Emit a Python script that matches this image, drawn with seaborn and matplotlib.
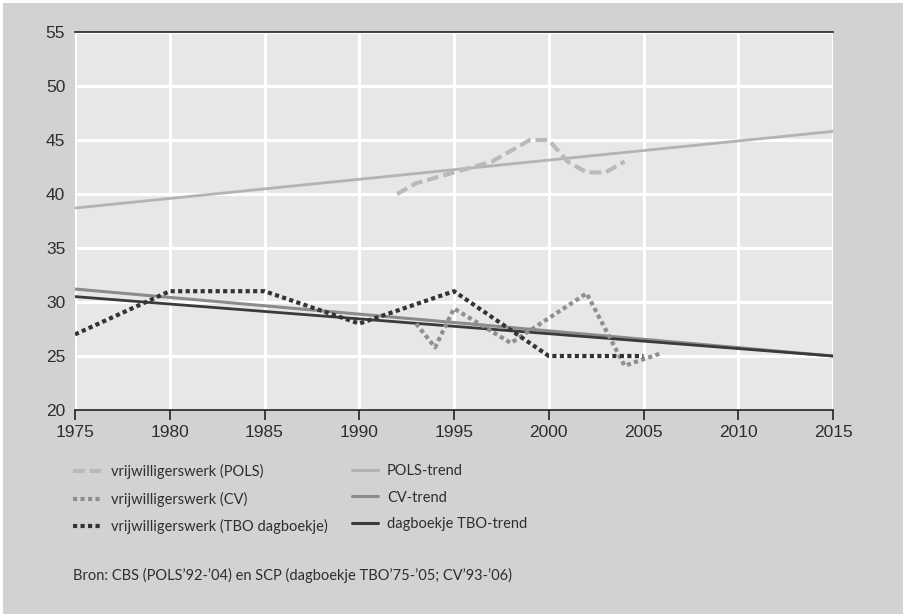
import matplotlib
matplotlib.use("Agg")
import matplotlib.pyplot as plt
import seaborn as sns
import numpy as np
from matplotlib.lines import Line2D
from matplotlib.patches import Rectangle

# ---- data ----
pols_years = [1992, 1993, 1994, 1995, 1996, 1997, 1998, 1999, 2000, 2001, 2002, 2003, 2004]
pols_vals = [40.0, 41.0, 41.5, 42.0, 42.5, 43.0, 44.0, 45.0, 45.0, 43.0, 42.0, 42.0, 43.0]

cv_years = [1993, 1994, 1995, 1998, 2002, 2004, 2006]
cv_vals = [28.0, 25.8, 29.4, 26.2, 30.8, 24.1, 25.3]

tbo_years = [1975, 1980, 1985, 1990, 1995, 2000, 2005]
tbo_vals = [27.0, 31.0, 31.0, 28.0, 31.0, 25.0, 25.0]

trend_years = [1975, 2015]
pols_trend = [38.7, 45.8]
cv_trend = [31.2, 25.0]
tbo_trend = [30.5, 25.0]

x_ticks = [1975, 1980, 1985, 1990, 1995, 2000, 2005, 2010, 2015]
y_ticks = [20, 25, 30, 35, 40, 45, 50, 55]

labels_left = ["vrijwilligerswerk (POLS)", "vrijwilligerswerk (CV)", "vrijwilligerswerk (TBO dagboekje)"]
labels_right = ["POLS-trend", "CV-trend", "dagboekje TBO-trend"]
source = "Bron: CBS (POLS\u201992-\u201904) en SCP (dagboekje TBO\u201975-\u201905; CV\u201993-\u201906)"

# ---- style ----
sns.set_theme(style="white")
narrow = ["Lato", "DejaVu Sans"]
plt.rcParams["font.family"] = ["Liberation Sans", "DejaVu Sans"]

outer_bg = "#d1d2d4"
panel_bg = "#e6e7e8"
txt = "#2e2e2e"

c_pols = "#b9babc"
c_cv = "#8e8f91"
c_tbo = "#333333"
c_pols_t = "#b2b3b5"
c_cv_t = "#8a8b8d"
c_tbo_t = "#3a3a3a"

fig = plt.figure(figsize=(9.04, 6.14), dpi=100)
fig.patch.set_facecolor("white")
fig.patches.append(Rectangle((3 / 904, 0), 1, 1 - 3 / 614, transform=fig.transFigure,
                             facecolor=outer_bg, edgecolor="none", zorder=-10))

ax = fig.add_axes([75 / 904, 1 - 410 / 614, (833 - 75) / 904, (410 - 32) / 614])
ax.set_facecolor(panel_bg)

# trends
sns.lineplot(x=trend_years, y=pols_trend, ax=ax, color=c_pols_t, lw=2.0, zorder=3)
sns.lineplot(x=trend_years, y=cv_trend, ax=ax, color=c_cv_t, lw=2.2, zorder=3)
sns.lineplot(x=trend_years, y=tbo_trend, ax=ax, color=c_tbo_t, lw=2.0, zorder=3)

# series
l1 = sns.lineplot(x=pols_years, y=pols_vals, ax=ax, color=c_pols, lw=3.0, zorder=4).lines[-1]
l1.set_dashes((2.8, 1.2))
l2 = sns.lineplot(x=cv_years, y=cv_vals, ax=ax, color=c_cv, lw=3.0, zorder=4).lines[-1]
l2.set_dashes((1.0, 0.8))
l3 = sns.lineplot(x=tbo_years, y=tbo_vals, ax=ax, color=c_tbo, lw=3.0, zorder=5).lines[-1]
l3.set_dashes((1.0, 0.8))

ax.set_xlim(1975, 2015)
ax.set_ylim(20, 55)
ax.set_xticks(x_ticks)
ax.set_yticks(y_ticks)
ax.set_xticklabels([str(v) for v in x_ticks])
ax.set_yticklabels([str(v) for v in y_ticks])
ax.grid(True, color="white", lw=2.2, zorder=1)
ax.set_axisbelow(True)
for s in ["left", "right"]:
    ax.spines[s].set_visible(False)
for s in ["top", "bottom"]:
    ax.spines[s].set_visible(True)
    ax.spines[s].set_color("#222222")
    ax.spines[s].set_linewidth(1.2)
ax.tick_params(axis="x", direction="out", length=7, width=1.2, color="#222222",
               labelsize=12.5, labelcolor=txt, pad=4, bottom=True)
ax.tick_params(axis="y", length=0, labelsize=12.5, labelcolor=txt, pad=7)
ax.set_xlabel("")
ax.set_ylabel("")

# legends
h_left = [Line2D([], [], color=c_pols, lw=3.0, dashes=(2.8, 1.2)),
          Line2D([], [], color=c_cv, lw=3.0, dashes=(1.0, 0.8)),
          Line2D([], [], color=c_tbo, lw=3.0, dashes=(1.0, 0.8))]
h_right = [Line2D([], [], color=c_pols_t, lw=2.2),
           Line2D([], [], color=c_cv_t, lw=2.2),
           Line2D([], [], color=c_tbo_t, lw=2.2)]
legprops = dict(family=narrow, size=10.5)
leg1 = fig.legend(h_left, labels_left, loc="upper left", bbox_to_anchor=(60 / 904, 1 - 451 / 614),
                  frameon=False, prop=legprops, handlelength=2.0, handletextpad=0.6,
                  labelspacing=0.85, labelcolor=txt)
leg2 = fig.legend(h_right, labels_right, loc="upper left", bbox_to_anchor=(339 / 904, 1 - 451 / 614),
                  frameon=False, prop=legprops, handlelength=1.8, handletextpad=0.6,
                  labelspacing=0.85, labelcolor=txt)

fig.text(73 / 904, 1 - 575 / 614, source, fontsize=10.5, family=narrow, color=txt,
         va="center", ha="left")

fig.savefig("out.png", dpi=100, facecolor=fig.get_facecolor())
